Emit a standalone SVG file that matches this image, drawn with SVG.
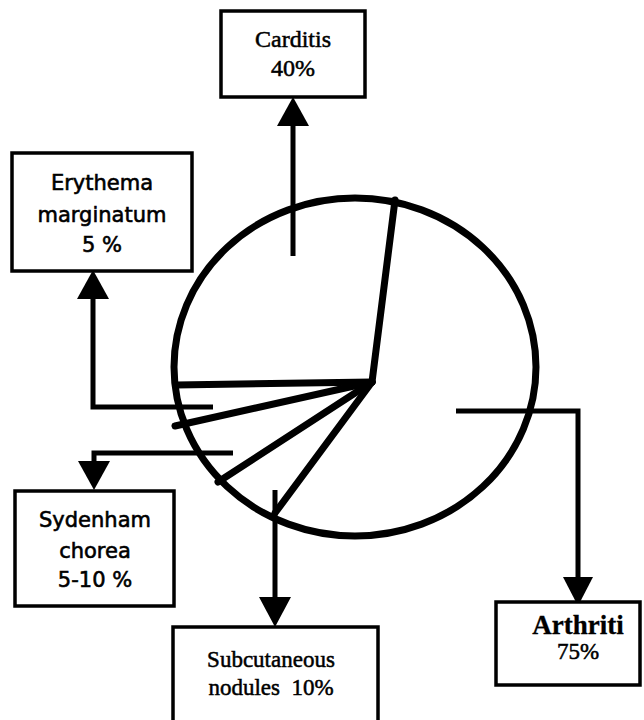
<svg xmlns="http://www.w3.org/2000/svg" width="644" height="720" viewBox="0 0 644 720">
<defs>
<style>
.box{fill:#fff;stroke:#000;stroke-width:3.5}
.ln{fill:none;stroke:#000;stroke-width:5;stroke-linejoin:miter}
.pie{fill:none;stroke:#000;stroke-width:7;stroke-linecap:round}
.t{font-family:"Liberation Serif","Times New Roman",serif;font-size:23px;text-anchor:middle;fill:#000;stroke:#000;stroke-width:0.5;white-space:pre}
.big{font-size:24px}
.c{font-family:"DejaVu Sans",sans-serif;font-size:21px;text-anchor:middle;fill:#000;stroke:#000;stroke-width:0.6}
.ar{font-size:27px;font-weight:bold;stroke-width:0.3}
</style>
</defs>
<rect width="644" height="720" fill="#fff"/>
<g id="pie">
<ellipse cx="355" cy="367" rx="181" ry="169" class="pie"/>
<line x1="372" y1="382" x2="395" y2="200" class="pie"/>
<line x1="372" y1="382" x2="176" y2="385" class="pie"/>
<line x1="372" y1="382" x2="175" y2="426" class="pie"/>
<line x1="372" y1="382" x2="218" y2="482" class="pie"/>
<line x1="372" y1="382" x2="275" y2="513" class="pie"/>
</g>
<g id="connectors">
<polyline class="ln" points="293,256 293,126"/>
<polygon points="277,126 309,126 293,97"/>
<polyline class="ln" points="213,407 93,407 93,299"/>
<polygon points="77,299 109,299 93,270"/>
<polyline class="ln" points="233,453 94,453 94,462"/>
<polygon points="78,461 110,461 94,490"/>
<polyline class="ln" points="275,490 275,598"/>
<polygon points="259,597 291,597 275,627"/>
<polyline class="ln" points="456,411 578,411 578,578"/>
<polygon points="563,577 593,577 578,606"/>
</g>
<g id="carditis">
<rect x="221" y="11" width="144" height="86" class="box"/>
<text x="293" y="47" class="t big">Carditis</text>
<text x="293" y="76" class="t big">40%</text>
</g>
<g id="erythema">
<rect x="12" y="153" width="180" height="118" class="box"/>
<text x="102" y="190" class="c">Erythema</text>
<text x="102" y="222" class="c">marginatum</text>
<text x="102" y="252" class="c">5 %</text>
</g>
<g id="sydenham">
<rect x="15" y="491" width="159" height="115" class="box"/>
<text x="95" y="527" class="c">Sydenham</text>
<text x="95" y="558" class="c">chorea</text>
<text x="95" y="587" class="c">5-10 %</text>
</g>
<g id="subcutaneous">
<rect x="173" y="627" width="205" height="95" class="box"/>
<text x="271" y="667" class="t">Subcutaneous</text>
<text x="271" y="695" class="t">nodules  10%</text>
</g>
<g id="arthritis">
<rect x="496" y="602" width="144" height="83" class="box"/>
<text x="578" y="634" class="t ar">Arthriti</text>
<text x="578" y="659" class="t">75%</text>
</g>
</svg>
